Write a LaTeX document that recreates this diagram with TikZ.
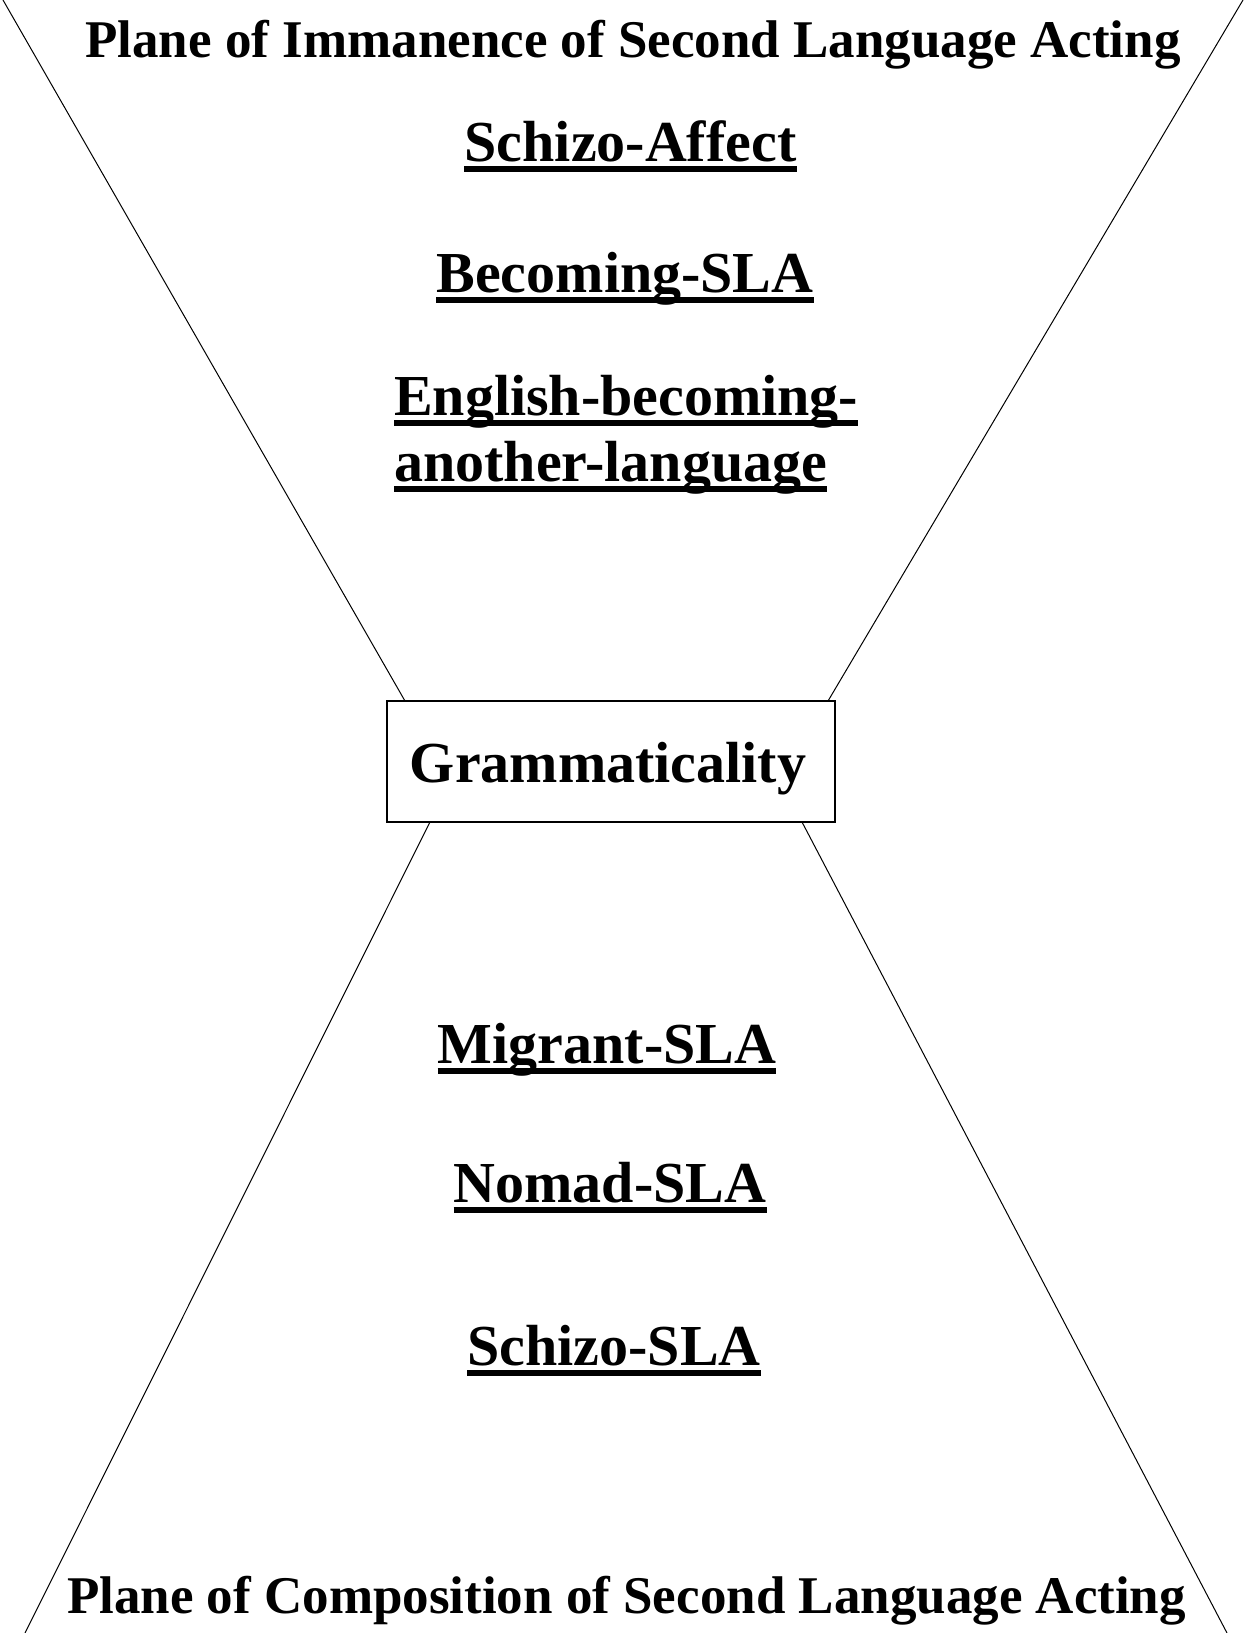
\documentclass[tikz,border=0pt]{standalone}
\usepackage{fontspec}
\setmainfont{Liberation Serif}
\begin{document}
\begin{tikzpicture}[x=1pt,y=-1pt,
  ttl/.style={anchor=base,inner sep=0pt,font=\bfseries\fontsize{53}{60}\selectfont},
  lbl/.style={anchor=base,inner sep=0pt,font=\bfseries\fontsize{58}{64}\selectfont},
  ul/.style={line width=6pt},
  thin/.style={line width=1pt},
  boxst/.style={draw,line width=2pt,minimum width=448pt,minimum height=121pt,inner sep=0pt}]
\useasboundingbox (0,0) rectangle (1244,1633);
% corner coordinates
\coordinate (tl) at (3,0);
\coordinate (tr) at (1243,0);
\coordinate (bl) at (25,1633);
\coordinate (br) at (1227,1633);
% box
\node[boxst] (box) at (611,761.5) {};
\node[lbl] (gram) at (608,782) {Grammaticality};
\coordinate (btl) at (405,701);
\coordinate (btr) at (828,701);
\coordinate (bbl) at (430,822);
\coordinate (bbr) at (802,822);
\draw[thin] (tl) -- (btl);
\draw[thin] (tr) -- (btr);
\draw[thin] (bl) -- (bbl);
\draw[thin] (br) -- (bbr);
% titles
\node[ttl] (top) at (633,57) {Plane of Immanence of Second Language Acting};
\node[ttl] (bot) at (626.5,1613) {Plane of Composition of Second Language Acting};
% underlined labels
\node[lbl] (sa) at (630.5,161) {Schizo-Affect};
\node[lbl] (bs) at (625,292) {Becoming-SLA};
\node[lbl,anchor=base west] (eb1) at (394,415) {English-becoming-};
\node[lbl,anchor=base west] (eb2) at (394,481) {another-language};
\node[lbl] (ms) at (607,1063) {Migrant-SLA};
\node[lbl] (ns) at (610,1202) {Nomad-SLA};
\node[lbl] (ss) at (614,1365) {Schizo-SLA};
\foreach \n in {sa,bs,eb1,eb2,ms,ns,ss}{
  \draw[ul] ([yshift=-8pt]\n.base west) -- ([yshift=-8pt]\n.base east);
}
\end{tikzpicture}
\end{document}
